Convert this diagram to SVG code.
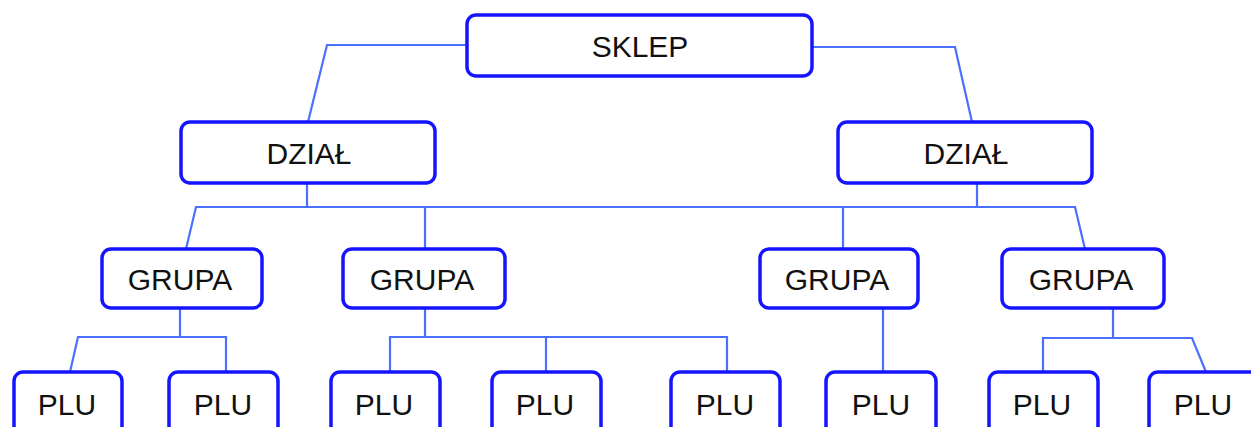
<svg xmlns="http://www.w3.org/2000/svg" width="1251" height="427" viewBox="0 0 1251 427">
<style>
.box{fill:#fff;stroke:#1414ff;stroke-width:3.5}
.lbl{font-family:"Liberation Sans",Arial,sans-serif;font-size:30px;fill:#111;text-anchor:middle;dominant-baseline:central}
.con{fill:none;stroke:#4a70ff;stroke-width:2.2}
</style>
<rect width="1251" height="427" fill="#fff"/>
<g id="connectors">
<polyline class="con" points="467,45 327,45 308,122"/>
<polyline class="con" points="812,47 955,47 972,122"/>
<line class="con" x1="307" y1="183" x2="307" y2="207"/>
<line class="con" x1="977" y1="183" x2="977" y2="207"/>
<polyline class="con" points="186,249 196,207 1075,207 1085,249"/>
<line class="con" x1="425" y1="207" x2="425" y2="249"/>
<line class="con" x1="843" y1="207" x2="843" y2="249"/>
<line class="con" x1="180" y1="308" x2="180" y2="337"/>
<polyline class="con" points="70,372 78,337 226,337 226,372"/>
<line class="con" x1="425" y1="308" x2="425" y2="337"/>
<polyline class="con" points="390,372 390,337 727,337 727,372"/>
<line class="con" x1="546" y1="337" x2="546" y2="372"/>
<line class="con" x1="883" y1="308" x2="883" y2="372"/>
<line class="con" x1="1113" y1="308" x2="1113" y2="338"/>
<polyline class="con" points="1043,372 1043,338 1192,338 1206,372"/>
</g>
<g id="sklep"><rect class="box" x="467" y="15" width="345" height="61" rx="9"/><text class="lbl" x="640" y="46">SKLEP</text></g>
<g id="dzial1"><rect class="box" x="181" y="122" width="254" height="61" rx="9"/><text class="lbl" x="309" y="153">DZIAŁ</text></g>
<g id="dzial2"><rect class="box" x="838" y="122" width="254" height="61" rx="9"/><text class="lbl" x="966" y="153">DZIAŁ</text></g>
<g id="grupa1"><rect class="box" x="102" y="249" width="160" height="59" rx="9"/><text class="lbl" x="180" y="279">GRUPA</text></g>
<g id="grupa2"><rect class="box" x="343" y="249" width="162" height="59" rx="9"/><text class="lbl" x="422" y="279">GRUPA</text></g>
<g id="grupa3"><rect class="box" x="760" y="249" width="158" height="59" rx="9"/><text class="lbl" x="837" y="279">GRUPA</text></g>
<g id="grupa4"><rect class="box" x="1002" y="249" width="162" height="59" rx="9"/><text class="lbl" x="1081" y="279">GRUPA</text></g>
<g id="plu1"><rect class="box" x="14" y="372" width="108" height="70" rx="9"/><text class="lbl" x="67" y="404">PLU</text></g>
<g id="plu2"><rect class="box" x="169" y="372" width="109" height="70" rx="9"/><text class="lbl" x="223" y="404">PLU</text></g>
<g id="plu3"><rect class="box" x="331" y="372" width="109" height="70" rx="9"/><text class="lbl" x="384" y="404">PLU</text></g>
<g id="plu4"><rect class="box" x="492" y="372" width="109" height="70" rx="9"/><text class="lbl" x="545" y="404">PLU</text></g>
<g id="plu5"><rect class="box" x="671" y="372" width="109" height="70" rx="9"/><text class="lbl" x="725" y="404">PLU</text></g>
<g id="plu6"><rect class="box" x="826" y="372" width="110" height="70" rx="9"/><text class="lbl" x="881" y="404">PLU</text></g>
<g id="plu7"><rect class="box" x="989" y="372" width="109" height="70" rx="9"/><text class="lbl" x="1042" y="404">PLU</text></g>
<g id="plu8"><rect class="box" x="1149" y="372" width="120" height="70" rx="9"/><text class="lbl" x="1203" y="404">PLU</text></g>
</svg>
